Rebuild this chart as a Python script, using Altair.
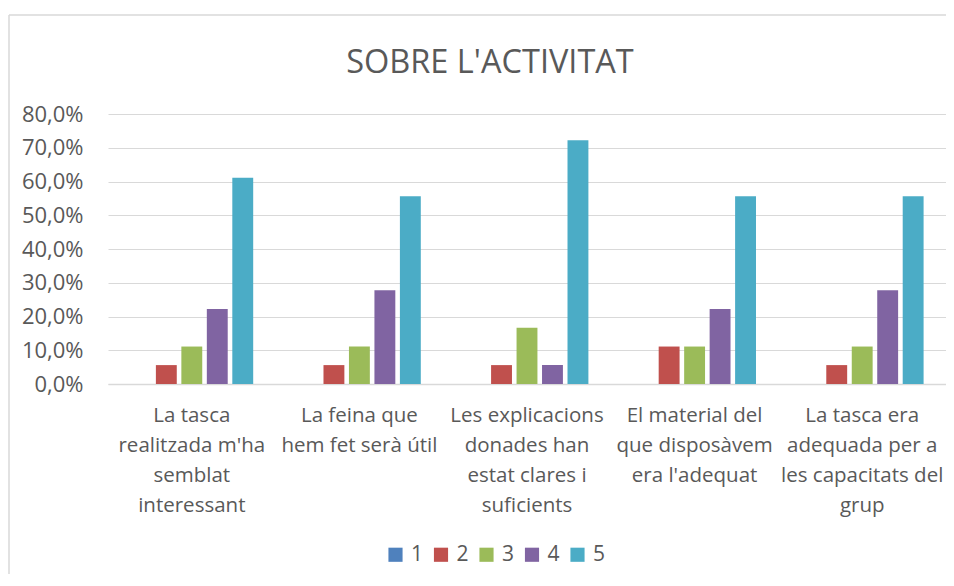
import altair as alt
import pandas as pd

categories = [
    "La tasca|realitzada m'ha|semblat|interessant",
    "La feina que|hem fet serà útil",
    "Les explicacions|donades han|estat clares i|suficients",
    "El material del|que disposàvem|era l'adequat",
    "La tasca era|adequada per a|les capacitats del|grup",
]
series = ["1", "2", "3", "4", "5"]
values_1 = [0.0, 0.0, 0.0, 0.0, 0.0]
values_2 = [0.056, 0.056, 0.056, 0.111, 0.056]
values_3 = [0.111, 0.111, 0.167, 0.111, 0.111]
values_4 = [0.222, 0.278, 0.056, 0.222, 0.278]
values_5 = [0.611, 0.556, 0.722, 0.556, 0.556]
colors = ["#4F81BD", "#C0504D", "#9BBB59", "#8064A2", "#4BACC6"]
y_ticks = [0.0, 0.1, 0.2, 0.3, 0.4, 0.5, 0.6, 0.7, 0.8]
title_text = "SOBRE L'ACTIVITAT"

rows = []
for s, vals in zip(series, [values_1, values_2, values_3, values_4, values_5]):
    for c, v in zip(categories, vals):
        rows.append({"cat": c, "serie": s, "val": v})
df = pd.DataFrame(rows)

FONT = "Open Sans"
GREY = "#595959"

bars = alt.Chart(df).mark_bar().encode(
    x=alt.X("cat:N", sort=categories,
            scale=alt.Scale(paddingInner=0.24, paddingOuter=0.12),
            axis=alt.Axis(title=None, labelAngle=0, labelExpr="split(datum.label, '|')",
                          labelFontSize=20.5, labelColor=GREY, labelFont=FONT,
                          labelLineHeight=30, labelPadding=21, labelBaseline="top",
                          ticks=False, domainColor="#d9d9d9", domainWidth=1.5,
                          grid=False, labelLimit=300)),
    xOffset=alt.XOffset("serie:N", sort=series,
                        scale=alt.Scale(paddingInner=0.18, paddingOuter=0.09)),
    y=alt.Y("val:Q", scale=alt.Scale(domain=[0, 0.8], nice=False),
            axis=alt.Axis(title=None, values=y_ticks,
                          labelExpr="replace(format(datum.value, '.1%'), '.', ',')",
                          labelFontSize=22, labelColor=GREY, labelFont=FONT,
                          labelPadding=25, ticks=False, domain=False,
                          gridColor="#d9d9d9", gridWidth=1.2)),
    color=alt.Color("serie:N", sort=series,
                    scale=alt.Scale(domain=series, range=colors),
                    legend=alt.Legend(title=None, orient="none", direction="horizontal",
                                      legendX=277, legendY=430,
                                      symbolType="square", symbolSize=200,
                                      symbolStrokeWidth=0,
                                      labelFontSize=21, labelColor=GREY, labelFont=FONT,
                                      columnPadding=6.5, labelOffset=5)),
)

one = pd.DataFrame({"a": [0]})
left_edge = alt.Chart(one).mark_rule(color="#d9d9d9", strokeWidth=1.5).encode(
    x=alt.value(-99), y=alt.value(-99), y2=alt.value(600)
)
top_edge = alt.Chart(one).mark_rule(color="#d9d9d9", strokeWidth=1.5).encode(
    x=alt.value(-99), x2=alt.value(1000), y=alt.value(-99)
)

title = alt.Chart(one).mark_text(
    font=FONT, fontSize=32.5, color=GREY, align="center", baseline="alphabetic"
).encode(
    text=alt.value(title_text), x=alt.value(382), y=alt.value(-41)
)

chart = alt.layer(left_edge, top_edge, title, bars).properties(
    width=838,
    height=270,
    autosize=alt.AutoSizeParams(type="none"),
    padding={"left": 100, "top": 106, "right": 0, "bottom": 190},
).configure_view(stroke=None)

chart.save("out.html", embed_options={"renderer": "svg", "actions": False})
